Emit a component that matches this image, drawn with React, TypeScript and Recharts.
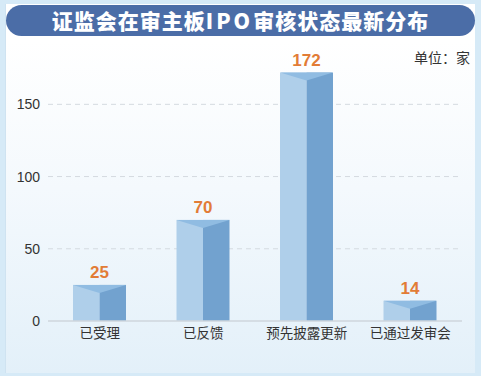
import { BarChart, Bar, XAxis, YAxis, CartesianGrid, LabelList } from 'recharts';

const categories = ['已受理', '已反馈', '预先披露更新', '已通过发审会'];
const counts = [25, 70, 172, 14];
const yTicks = [0, 50, 100, 150];
const gridValues = [50, 100, 150];

const data = categories.map((name, i) => ({ name, count: counts[i] }));

const cjk = '"Noto Sans CJK SC", "Noto Sans", sans-serif';

function PrismBar(props: any) {
  const { x, y, width, height } = props;
  if (!height || height <= 0) return null;
  const mid = x + width / 2;
  const dip = Math.min(8, height);
  return (
    <g>
      <rect x={x} y={y} width={width / 2} height={height} fill='#afcfea' />
      <rect x={mid} y={y} width={width / 2} height={height} fill='#72a2cf' />
      <polygon
        points={`${x},${y} ${x + width},${y} ${mid},${y + dip}`}
        fill='#90bce2'
      />
    </g>
  );
}

export default function App() {
  return (
    <div
      style={{
        position: 'absolute',
        left: 0,
        top: 0,
        width: 481,
        height: 376,
        background: '#d6eaf7',
        overflow: 'hidden'
      }}
    >
      {/* inner panel */}
      <div
        style={{
          position: 'absolute',
          left: 5,
          top: 4,
          width: 469,
          height: 369,
          background: 'linear-gradient(#ffffff 10%, #f4f9fd 50%, #e3f0f9 100%)',
          borderLeft: '1px solid #cfe3f1'
        }}
      />
      {/* title banner */}
      <div
        style={{
          position: 'absolute',
          left: 6,
          top: 5,
          width: 469,
          height: 31,
          borderRadius: 16,
          background: '#4b6da7',
          color: '#fff',
          fontFamily: cjk,
          fontWeight: 900,
          fontSize: 21,
          letterSpacing: 1,
          lineHeight: '31px',
          textAlign: 'center'
        }}
      >
        证监会在审主板<span style={{ letterSpacing: 3 }}>IPO</span>审核状态最新分布
      </div>
      <div
        style={{
          position: 'absolute',
          left: 414,
          top: 47,
          fontFamily: cjk,
          fontSize: 14,
          color: '#333',
          lineHeight: '20px'
        }}
      >
        单位：家
      </div>
      <div style={{ position: 'absolute', left: 0, top: 0 }}>
        <BarChart
          width={481}
          height={376}
          data={data}
          margin={{ top: 61, right: 19, bottom: 25, left: 0 }}
        >
          <CartesianGrid
            vertical={false}
            horizontalValues={gridValues}
            stroke='#d4dae0'
            strokeDasharray='5 4'
          />
          <XAxis
            dataKey='name'
            height={30}
            tickLine={false}
            axisLine={{ stroke: '#cfd6dc', strokeWidth: 1.5 }}
            tickSize={0}
            tickMargin={7}
            interval={0}
            tick={{ fill: '#333', fontSize: 13.5, fontFamily: cjk }}
          />
          <YAxis
            width={48}
            domain={[0, 180]}
            ticks={yTicks}
            axisLine={false}
            tickLine={false}
            tickSize={0}
            tickMargin={8}
            tick={{
              fill: '#333',
              fontSize: 14,
              fontFamily: '"Liberation Sans", Arial, sans-serif'
            }}
          />
          <Bar
            dataKey='count'
            barSize={53}
            shape={<PrismBar />}
            isAnimationActive={false}
          >
            <LabelList
              dataKey='count'
              position='top'
              offset={7}
              fill='#e27c36'
              fontSize={17}
              fontWeight='bold'
              fontFamily='"Liberation Sans", Arial, sans-serif'
            />
          </Bar>
        </BarChart>
      </div>
    </div>
  );
}
